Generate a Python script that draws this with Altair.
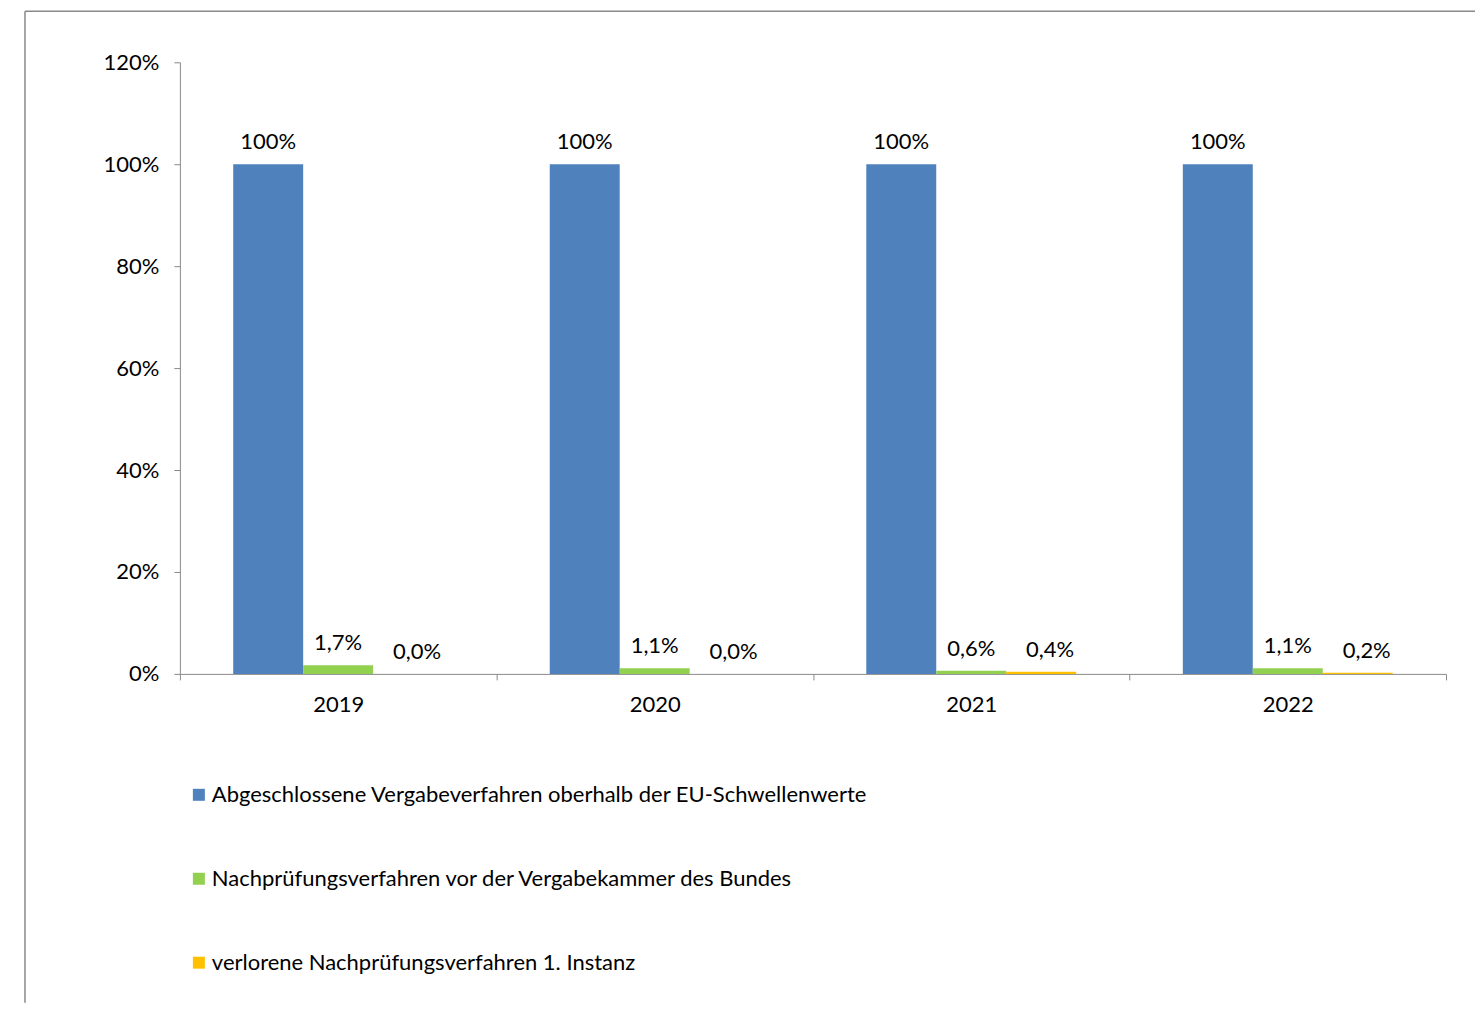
import altair as alt
import pandas as pd

years = ["2019", "2020", "2021", "2022"]
series = [
    "Abgeschlossene Vergabeverfahren oberhalb der EU-Schwellenwerte",
    "Nachprüfungsverfahren vor der Vergabekammer des Bundes",
    "verlorene Nachprüfungsverfahren 1. Instanz",
]
colors = ["#4F81BD", "#92D050", "#FFC000"]
abgeschlossen = [100, 100, 100, 100]
nachpruefung = [1.7, 1.1, 0.6, 1.1]
verloren = [0.0, 0.0, 0.4, 0.2]
y_ticks = [0, 20, 40, 60, 80, 100, 120]

rows = []
for i, y in enumerate(years):
    rows.append({"Jahr": y, "Serie": series[0], "Wert": abgeschlossen[i],
                 "Label": f"{abgeschlossen[i]:.0f}%"})
    rows.append({"Jahr": y, "Serie": series[1], "Wert": nachpruefung[i],
                 "Label": f"{nachpruefung[i]:.1f}%".replace(".", ",")})
    rows.append({"Jahr": y, "Serie": series[2], "Wert": verloren[i],
                 "Label": f"{verloren[i]:.1f}%".replace(".", ",")})
df = pd.DataFrame(rows)

FONT = "Lato"
FS = 22
TXT = "#000000"
GRAY = "#898989"

x_enc = alt.X("Jahr:N", sort=years, title=None,
              scale=alt.Scale(paddingInner=0, paddingOuter=0),
              axis=alt.Axis(labelAngle=0, tickBand="extent", domainColor=GRAY,
                            tickColor=GRAY, tickSize=6, labelPadding=15,
                            labelFontSize=FS, labelFont=FONT, labelColor=TXT,
                            grid=False))
xo_enc = alt.XOffset("Serie:N", sort=series,
                     scale=alt.Scale(paddingOuter=0.7625, paddingInner=0))
y_enc = alt.Y("Wert:Q", title=None,
              scale=alt.Scale(domain=[0, 120], nice=False),
              axis=alt.Axis(values=y_ticks, labelExpr="datum.value + '%'",
                            domainColor=GRAY, tickColor=GRAY, tickSize=6,
                            labelPadding=15, labelFontSize=FS, labelFont=FONT,
                            labelColor=TXT, grid=False))
color_enc = alt.Color("Serie:N", sort=series,
                      scale=alt.Scale(domain=series, range=colors),
                      legend=alt.Legend(title=None, orient="none", legendX=8,
                                        legendY=722, direction="vertical",
                                        symbolType="square", symbolSize=144,
                                        symbolStrokeWidth=0, symbolOpacity=1,
                                        labelFontSize=FS, labelFont=FONT,
                                        labelColor=TXT, labelLimit=2000,
                                        labelOffset=2, rowPadding=62,
                                        padding=0))

base = alt.Chart(df)
bars = base.mark_bar(size=70).encode(x=x_enc, xOffset=xo_enc, y=y_enc, color=color_enc)
labels_main = base.transform_filter(
    alt.datum.Serie != series[2]
).mark_text(baseline="alphabetic", dy=-15, fontSize=FS, font=FONT,
            color=TXT).encode(x=x_enc, xOffset=xo_enc, y=y_enc, text="Label:N")
labels_last = base.transform_filter(
    alt.datum.Serie == series[2]
).mark_text(baseline="alphabetic", dy=-15, dx=9, fontSize=FS, font=FONT,
            color=TXT).encode(x=x_enc, xOffset=xo_enc, y=y_enc, text="Label:N")

frame_data = alt.Data(values=[{"f": 1}])
left_line = alt.Chart(frame_data).mark_rule(color=GRAY, strokeWidth=1.5).encode(
    x=alt.value(-155), y=alt.value(-51), y2=alt.value(941))
top_line = alt.Chart(frame_data).mark_rule(color=GRAY, strokeWidth=1.5).encode(
    x=alt.value(-155), x2=alt.value(1296), y=alt.value(-51))

chart = alt.layer(left_line, top_line, bars, labels_main, labels_last).properties(
    width=1267, height=612,
    padding={"left": 16, "top": 2, "right": 0, "bottom": 0},
    background="white",
).configure_view(stroke=None)

chart.save("out.html", embed_options={"renderer": "svg", "actions": False})
